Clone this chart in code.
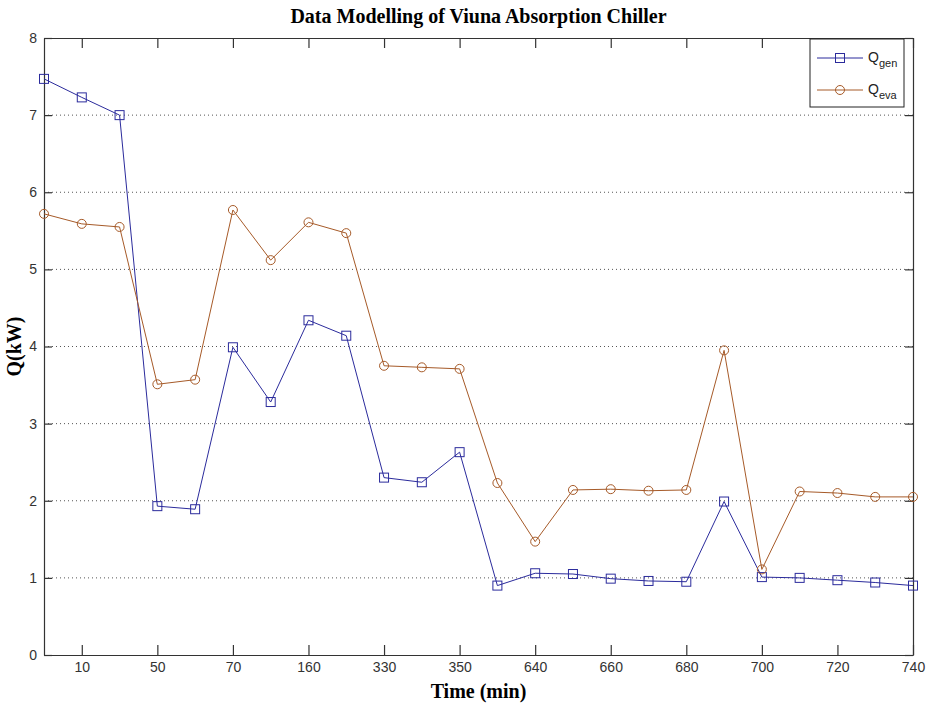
<!DOCTYPE html>
<html>
<head>
<meta charset="utf-8">
<script src="https://cdn.jsdelivr.net/npm/d3@7"></script>
<style>
  body { margin: 0; background: #fff; }
  svg { display: block; }
</style>
</head>
<body>
<div id="chart"></div>
<script>
// values, one per sample
const timeLabels = ["10", "50", "70", "160", "330", "350", "640", "660", "680", "700", "720", "740"];
const qGen = [7.47, 7.23, 7.0, 1.93, 1.89, 3.99, 3.28, 4.34, 4.14, 2.3, 2.24, 2.63,
  0.9, 1.06, 1.05, 0.99, 0.96, 0.95, 1.99, 1.01, 1.0, 0.97, 0.94, 0.9];
const qEva = [5.72, 5.59, 5.55, 3.51, 3.57, 5.77, 5.12, 5.61, 5.47, 3.75, 3.73, 3.71,
  2.23, 1.47, 2.14, 2.15, 2.13, 2.14, 3.95, 1.11, 2.12, 2.1, 2.05, 2.05];
const yTicks = [0, 1, 2, 3, 4, 5, 6, 7, 8];

const genColor = "#2b2b9c",
  evaColor = "#a65a28",
  axisColor = "#333";

const width = 928,
  height = 708;
const margin = { top: 38, right: 15, bottom: 53, left: 44 };

const svg = d3
  .select("#chart")
  .append("svg")
  .attr("width", width)
  .attr("height", height);

const x = d3
  .scaleLinear()
  .domain([0, qGen.length - 1])
  .range([margin.left, width - margin.right]);

const y = d3
  .scaleLinear()
  .domain([0, 8])
  .range([height - margin.bottom, margin.top]);

const serif = "Liberation Serif, Times New Roman, serif";
const midX = (x.range()[0] + x.range()[1]) / 2;

// title
svg
  .append("text")
  .attr("x", midX)
  .attr("y", 23)
  .attr("text-anchor", "middle")
  .attr("font-family", serif)
  .attr("font-weight", "bold")
  .attr("font-size", 20)
  .text("Data Modelling of Viuna Absorption Chiller");

// dotted horizontal grid
svg
  .append("g")
  .selectAll("line")
  .data(yTicks.slice(1, -1))
  .join("line")
  .attr("x1", x.range()[0])
  .attr("x2", x.range()[1])
  .attr("y1", (d) => y(d))
  .attr("y2", (d) => y(d))
  .attr("stroke", "#555")
  .attr("stroke-width", 1)
  .attr("stroke-dasharray", "1,3");

// x ticks sit on odd sample indices
const tickIdx = timeLabels.map((_, i) => 2 * i + 1);

const xBottom = d3
  .axisBottom(x)
  .tickValues(tickIdx)
  .tickFormat((d, i) => timeLabels[i])
  .tickSizeInner(-10)
  .tickSizeOuter(0)
  .tickPadding(7);

const xTop = d3
  .axisTop(x)
  .tickValues(tickIdx)
  .tickFormat("")
  .tickSizeInner(-10)
  .tickSizeOuter(0);

const yLeft = d3
  .axisLeft(y)
  .tickValues(yTicks)
  .tickFormat(d3.format("d"))
  .tickSizeInner(-8)
  .tickSizeOuter(0)
  .tickPadding(7);

const yRight = d3
  .axisRight(y)
  .tickValues(yTicks)
  .tickFormat("")
  .tickSizeInner(-8)
  .tickSizeOuter(0);

const styleAxis = (g) => {
  g.selectAll("path, line").attr("stroke", axisColor).attr("stroke-width", 1.2);
  g.selectAll("text")
    .attr("fill", "#333")
    .attr("font-family", "Liberation Sans, Arial, sans-serif")
    .attr("font-size", 14);
};

svg.append("g").attr("transform", `translate(0,${y(0)})`).call(xBottom).call(styleAxis);
svg.append("g").attr("transform", `translate(0,${y(8)})`).call(xTop).call(styleAxis);
svg.append("g").attr("transform", `translate(${x.range()[0]},0)`).call(yLeft).call(styleAxis);
svg.append("g").attr("transform", `translate(${x.range()[1]},0)`).call(yRight).call(styleAxis);

// axis labels
svg
  .append("text")
  .attr("x", midX)
  .attr("y", 698)
  .attr("text-anchor", "middle")
  .attr("font-family", serif)
  .attr("font-weight", "bold")
  .attr("font-size", 20)
  .text("Time (min)");

svg
  .append("text")
  .attr("transform", `translate(21,${(y(0) + y(8)) / 2}) rotate(-90)`)
  .attr("text-anchor", "middle")
  .attr("font-family", serif)
  .attr("font-weight", "bold")
  .attr("font-size", 20)
  .text("Q(kW)");

// lines
const line = d3
  .line()
  .x((d, i) => x(i))
  .y((d) => y(d));

const plot = svg.append("g");

plot
  .append("path")
  .datum(qGen)
  .attr("d", line)
  .attr("fill", "none")
  .attr("stroke", genColor)
  .attr("stroke-width", 1);

plot
  .selectAll(".genMarker")
  .data(qGen)
  .join("rect")
  .attr("class", "genMarker")
  .attr("x", (d, i) => x(i) - 4.5)
  .attr("y", (d) => y(d) - 4.5)
  .attr("width", 9)
  .attr("height", 9)
  .attr("fill", "none")
  .attr("stroke", genColor)
  .attr("stroke-width", 1);

plot
  .append("path")
  .datum(qEva)
  .attr("d", line)
  .attr("fill", "none")
  .attr("stroke", evaColor)
  .attr("stroke-width", 1);

plot
  .selectAll(".evaMarker")
  .data(qEva)
  .join("circle")
  .attr("class", "evaMarker")
  .attr("cx", (d, i) => x(i))
  .attr("cy", (d) => y(d))
  .attr("r", 4.5)
  .attr("fill", "none")
  .attr("stroke", evaColor)
  .attr("stroke-width", 1);

// legend
const legend = svg.append("g").attr("transform", "translate(810,39)");

legend
  .append("rect")
  .attr("width", 94)
  .attr("height", 68)
  .attr("fill", "#fff")
  .attr("stroke", "#222")
  .attr("stroke-width", 1);

const legendItems = [
  { name: "gen", color: genColor, shape: "square", yy: 19 },
  { name: "eva", color: evaColor, shape: "circle", yy: 51 },
];

legendItems.forEach((item) => {
  legend
    .append("line")
    .attr("x1", 7)
    .attr("x2", 53)
    .attr("y1", item.yy)
    .attr("y2", item.yy)
    .attr("stroke", item.color)
    .attr("stroke-width", 1);
  if (item.shape === "square") {
    legend
      .append("rect")
      .attr("x", 30 - 4.5)
      .attr("y", item.yy - 4.5)
      .attr("width", 9)
      .attr("height", 9)
      .attr("fill", "none")
      .attr("stroke", item.color);
  } else {
    legend
      .append("circle")
      .attr("cx", 30)
      .attr("cy", item.yy)
      .attr("r", 4.5)
      .attr("fill", "none")
      .attr("stroke", item.color);
  }
  const t = legend
    .append("text")
    .attr("x", 58)
    .attr("y", item.yy + 4)
    .attr("font-family", "Liberation Sans, Arial, sans-serif")
    .attr("font-size", 14)
    .attr("fill", "#222")
    .text("Q");
  t.append("tspan")
    .attr("dy", 5)
    .attr("font-size", 11)
    .text(item.name);
});
</script>
</body>
</html>
